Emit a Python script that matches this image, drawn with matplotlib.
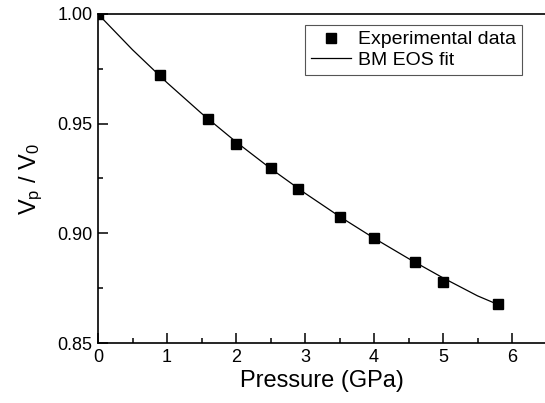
import matplotlib
matplotlib.use("Agg")
import matplotlib.pyplot as plt
from matplotlib.ticker import MultipleLocator

plt.rcParams['font.family'] = ['Liberation Sans', 'DejaVu Sans']
plt.rcParams['mathtext.fontset'] = 'custom'
plt.rcParams['mathtext.rm'] = 'Liberation Sans'
plt.rcParams['mathtext.it'] = 'Liberation Sans'

# Experimental data
pressure = [0.0, 0.9, 1.6, 2.0, 2.5, 2.9, 3.5, 4.0, 4.6, 5.0, 5.8]
volume_ratio = [1.000, 0.972, 0.952, 0.9407, 0.930, 0.920, 0.9074, 0.898, 0.887, 0.878, 0.868]

# BM EOS fit curve
fit_pressure = [0.0, 0.5, 1.0, 1.5, 2.0, 2.5, 3.0, 3.5, 4.0, 4.5, 5.0, 5.5, 5.8]
fit_ratio = [1.000, 0.9837, 0.9687, 0.9547, 0.9417, 0.9296, 0.9183, 0.9077, 0.8978, 0.8885, 0.8797, 0.8715, 0.8675]

fig = plt.figure(figsize=(5.45, 4.03), dpi=100)
ax = fig.add_axes([98/545, 1-343/403, 6.5*69/545, (343-14)/403])

ax.plot(fit_pressure, fit_ratio, color='black', lw=0.9, label='BM EOS fit', zorder=2)
ax.plot(pressure, volume_ratio, ls='none', marker='s', ms=7.2, color='black',
        label='Experimental data', zorder=3)

ax.set_xlim(0, 6.5)
ax.set_ylim(0.85, 1.00)
ax.xaxis.set_major_locator(MultipleLocator(1))
ax.xaxis.set_minor_locator(MultipleLocator(0.5))
ax.yaxis.set_major_locator(MultipleLocator(0.05))
ax.yaxis.set_minor_locator(MultipleLocator(0.025))
ax.set_yticks([0.85, 0.90, 0.95, 1.00])
ax.set_yticklabels(['0.85', '0.90', '0.95', '1.00'])
ax.set_xticks([0, 1, 2, 3, 4, 5, 6])

ax.tick_params(which='major', direction='in', length=7, width=1.1, labelsize=13, pad=4)
ax.tick_params(which='minor', direction='in', length=3.5, width=1.1)
ax.tick_params(top=False, right=False)
for s in ax.spines.values():
    s.set_linewidth(1.2)

ax.set_xlabel('Pressure (GPa)', fontsize=17, labelpad=3)
ax.set_ylabel(r'$\mathrm{V_p\ /\ V_0}$', fontsize=17, labelpad=9)

handles, labels = ax.get_legend_handles_labels()
leg = ax.legend(handles[::-1], labels[::-1], loc='upper right',
                bbox_to_anchor=(522/545, 1-25/403), bbox_transform=fig.transFigure,
                borderaxespad=0, fontsize=14, fancybox=False, framealpha=1,
                edgecolor='#555555', handlelength=2.1, handletextpad=0.35,
                labelspacing=0.15, borderpad=0.3, numpoints=1)
leg.get_frame().set_linewidth(0.8)

fig.savefig('out.png', dpi=100)
